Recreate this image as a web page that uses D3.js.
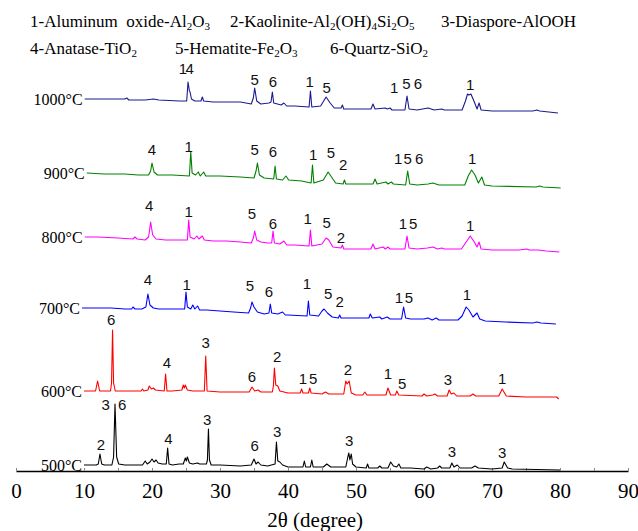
<!DOCTYPE html>
<html><head><meta charset="utf-8">
<script src="https://cdn.jsdelivr.net/npm/d3@7"></script>
<style>
html,body{margin:0;padding:0;background:#fff;}
svg{display:block;}
text{white-space:pre;}
</style></head>
<body>
<svg id="chart" width="638" height="531"></svg>
<script>
// ---------- data ----------
const xTicks = [0, 10, 20, 30, 40, 50, 60, 70, 80, 90];
const temperatures = ["500°C", "600°C", "700°C", "800°C", "900°C", "1000°C"];
const offsets = [6, 80, 163, 234, 298, 372];   // vertical stacking offset (a.u.)
const colors = ["#000000", "#ff0000", "#0000ff", "#ff00ff", "#008000", "#1a1a8e"];

const s500 = [[10,0],[11.8,0],[12.1,1],[12.35,11],[12.6,1],[13,0],[14.1,0],[14.35,8],[14.56,61],[14.8,8],[15.1,1],[16,0],[18.6,0],[19,4],[19.3,1],[19.7,3],[20,6],[20.3,3],[20.6,5],[20.9,2],[21.5,1],[22.1,1],[22.3,17],[22.5,1],[23,0],[24,1],[24.6,1],[24.9,7],[25.05,4],[25.2,8],[25.5,2],[26,1],[26.7,2],[27,1],[28,1],[28.15,5],[28.3,36],[28.45,5],[28.7,0],[30,0],[33,-1],[34.6,0],[35,6],[35.3,1],[35.6,3],[36,0],[37,-1],[38.1,1],[38.3,23],[38.5,4],[38.8,3],[39.2,0],[40,-2],[42.2,-2],[42.4,4],[42.6,-2],[43.3,-2],[43.5,5],[43.7,-2],[45.2,-2],[45.7,1],[46.3,-2],[48.5,-2],[48.8,8],[48.95,12],[49.1,5],[49.3,11],[49.5,1],[50,-2],[51.5,-3],[51.7,1],[51.9,-3],[53.2,-3],[53.5,-1],[53.8,-3],[54.7,-3],[55.1,3],[55.5,-1],[56,-2],[56.3,1],[56.6,-3],[58,-3],[60,-4],[60.4,-2],[61,-4],[62,-3],[62.3,-1],[62.6,-3],[63.8,-3],[64.1,2],[64.4,-2],[64.9,0],[65.3,-3],[67,-3],[67.5,-1],[68,-3],[70,-4],[71.5,-3],[71.8,3],[72.3,-3],[73,-4],[80,-5]];
const s600 = [[10,0],[11.7,0],[12,10],[12.3,0],[13.9,0],[14.05,8],[14.2,61],[14.35,8],[14.6,0],[16,0],[18.4,0],[18.6,2],[18.8,0],[19.4,1],[19.6,5],[19.9,2],[20.2,3],[20.5,1],[21.8,0],[22,17],[22.2,0],[23,0],[24.4,1],[24.6,6],[24.75,3],[24.9,6],[25.2,1],[26,0],[27.7,0],[27.9,35],[28.1,0],[30,-1],[34.3,-1],[34.7,4],[35.1,0],[35.6,1],[36,-1],[37.7,-1],[37.85,5],[38,23],[38.2,6],[38.5,5],[38.8,0],[40,-2],[41.8,-2],[42,2],[42.2,-2],[43,-2],[43.2,3],[43.4,-2],[45,-3],[45.5,-1],[46,-3],[48.2,-3],[48.5,10],[48.7,7],[49,10],[49.3,-2],[50,-4],[51,-4],[51.3,-1],[51.6,-4],[54.4,-4],[54.7,3],[55.1,-4],[55.8,-4],[56,0],[56.3,-4],[59.7,-5],[60,-3],[60.4,-5],[61.3,-4],[61.6,-3],[62,-5],[63.4,-5],[63.7,1],[64,-3],[64.4,-2],[64.8,-5],[66.8,-5],[67.2,-3],[67.6,-5],[71,-5],[71.5,2],[72.1,-5],[75,-6],[79.5,-6],[79.8,-8]];
const s700 = [[9.7,0],[12,0],[14,0],[16,-1],[17,-1],[17.2,1],[17.5,-1],[18.5,-1],[19.1,1],[19.4,14],[19.7,3],[20.2,0],[21,-1],[22,-1],[23.5,-1],[24.8,-1],[25,16],[25.2,1],[25.7,-1],[26,3],[26.3,-1],[26.7,2],[27,-2],[28,-2],[30,-3],[32,-4],[34.2,-5],[34.5,0],[34.7,6],[35,1],[35.5,-4],[36.5,-6],[37.2,-5],[37.4,4],[37.6,-5],[38.5,-6],[39.2,-4],[39.6,-7],[40,-7],[42.8,-8],[43,7],[43.2,-7],[44.5,-8],[45,-3],[45.3,-1],[45.8,-5],[46.5,-9],[47.4,-10],[47.6,-7],[47.8,-10],[50,-10],[51.9,-10],[52.1,-6],[52.4,-10],[53.5,-9],[53.8,-11],[54.6,-9],[55,-11],[56.7,-11],[57,1],[57.3,-10],[58,-11],[60,-11],[60.6,-10],[61.2,-12],[61.8,-10],[62.2,-12],[65,-12],[65.6,-8],[66.2,1],[66.6,-2],[67.2,-9],[67.8,-5],[68.2,-11],[69,-13],[72,-14],[76,-15],[76.6,-14],[77.2,-15],[79.4,-16]];
const s800 = [[10.1,0],[12,0],[15,-1],[17.2,-2],[17.5,0],[17.8,-2],[19,-3],[19.5,0],[19.8,15],[20.1,2],[20.6,-2],[22,-3],[24,-3],[25.2,-3],[25.4,17],[25.6,0],[26.2,-2],[26.6,1],[26.9,-2],[27.4,1],[27.7,-3],[29,-4],[31,-4],[33,-5],[34.6,-6],[34.9,-1],[35.1,6],[35.4,-3],[36,-5],[37,-6],[37.6,-6],[37.8,6],[38,-6],[38.8,-7],[39.4,-4],[39.8,-8],[41,-8],[43.1,-9],[43.3,7],[43.5,-9],[45,-7],[45.6,-1],[46,-3],[46.6,-10],[47.8,-11],[48,-8],[48.2,-12],[50,-12],[52.2,-12],[52.5,-7],[52.8,-12],[54,-10],[54.3,-12],[54.7,-10],[55,-12],[57.2,-12],[57.5,1],[57.8,-11],[59,-12],[60.5,-11],[61.3,-10],[62,-12],[62.6,-11],[63,-12],[65.5,-12],[66.3,-4],[66.8,1],[67.4,-5],[67.8,-10],[68.1,-5],[68.4,-12],[70,-13],[74,-13],[75.1,-12],[75.5,-13],[76.8,-13],[78,-14],[79.9,-15]];
const s900 = [[10.4,0],[13,-1],[16,-1],[18,-2],[19.5,-2],[19.8,2],[20,10],[20.3,1],[20.8,-2],[23,-2],[25.5,-3],[25.7,21],[25.9,0],[26.4,-2],[26.8,1],[27.1,-3],[27.6,1],[27.9,-3],[30,-3],[33,-4],[35,-5],[35.3,2],[35.5,10],[35.8,-2],[36.5,-5],[37.9,-6],[38.1,7],[38.3,-6],[39.2,-7],[39.7,-3],[40.1,-7],[42,-8],[43.4,-10],[43.6,8],[43.8,-10],[45.2,-7],[45.9,1],[46.4,-4],[47,-10],[48.1,-11],[48.3,-7],[48.5,-11],[52.5,-11],[52.8,-6],[53.1,-11],[54.4,-9],[54.7,-11],[55.2,-9],[55.5,-11],[57.3,-12],[57.6,2],[57.9,-11],[59,-12],[60.6,-11],[61.3,-10],[62.2,-12],[66,-12],[66.5,-3],[67,3],[67.5,-2],[68,-10],[68.5,-4],[68.9,-12],[70,-13],[76.5,-14],[77,-13],[77.5,-14],[80.1,-15]];
const s1000 = [[10.1,0],[13,0],[16,0],[16.3,1],[16.6,-1],[19,-1],[20.2,0],[21,-1],[24,-2],[25.1,-2],[25.3,17],[25.5,8],[25.6,7],[25.8,0],[26.3,-2],[27.2,-2],[27.4,2],[27.6,-2],[29,-3],[31,-3],[33,-3],[34.6,-5],[34.9,1],[35.1,11],[35.4,-2],[36,-5],[37.2,-4],[37.5,-3],[37.7,7],[37.9,-4],[39,-6],[39.4,-4],[39.8,-7],[41,-7],[43.1,-8],[43.3,8],[43.5,-8],[44.8,-7],[45.6,2],[46.2,-4],[46.8,-9],[47.8,-9],[48,-6],[48.2,-10],[52.2,-10],[52.5,-5],[52.8,-10],[54.3,-9],[54.6,-10],[55,-9],[55.3,-11],[57.2,-11],[57.5,3],[57.8,-10],[59,-11],[60.6,-9],[61.5,-11],[62.6,-10],[63,-11],[65.6,-11],[66.1,-2],[66.4,5],[66.6,4],[66.9,5],[67.4,-3],[67.8,-10],[68.1,-4],[68.4,-11],[70,-12],[76,-12],[76.6,-11],[77,-12],[79.7,-14]];
const seriesData = [s500, s600, s700, s800, s900, s1000];

// peak labels: [2θ, label, height above that pattern's baseline]
const l500 = [[12.5,"2",21],[13.2,"3",61],[15.6,"6",61],[22.4,"4",27],[28.1,"3",46],[35.1,"6",20],[38.4,"3",34],[49.0,"3",25],[64.1,"3",14],[71.5,"3",13]];
const l600 = [[14.0,"6",72],[22.2,"4",29],[27.9,"3",49],[34.7,"6",15],[38.4,"2",35],[42.2,"1",13],[43.7,"5",13],[48.8,"2",22],[54.7,"1",18],[56.8,"5",8],[63.5,"3",12],[71.5,"1",13]];
const l700 = [[19.4,"4",29],[25.1,"1",24],[34.4,"5",23],[37.2,"6",17],[42.8,"1",25],[45.9,"5",15],[47.6,"2",7],[56.3,"1",11],[57.8,"5",11],[66.3,"1",14]];
const l800 = [[19.6,"4",32],[25.4,"1",26],[34.7,"5",24],[37.8,"6",14],[42.9,"1",19],[45.7,"5",15],[47.8,"2",0],[56.9,"1",14],[58.4,"5",14],[66.8,"1",12]];
const l900 = [[20.0,"4",24],[25.4,"1",27],[35.1,"5",24],[37.8,"6",22],[43.7,"1",19],[46.3,"5",21],[48.1,"2",9],[56.2,"1",15],[57.6,"5",15],[59.3,"6",15],[67.1,"1",15]];
const l1000 = [[24.55,"1",31],[25.55,"4",31],[35.1,"5",20],[37.8,"6",18],[43.2,"1",18],[45.7,"5",12],[55.6,"1",12],[57.4,"5",16],[59.1,"6",16],[66.8,"1",15]];
const labelData = [l500, l600, l700, l800, l900, l1000];

// legend rows: segments [text, isSubscript]
const legendRow1 = [
  [["1-Aluminum  oxide-Al",0],["2",1],["O",0],["3",1]],
  [["2-Kaolinite-Al",0],["2",1],["(OH)",0],["4",1],["Si",0],["2",1],["O",0],["5",1]],
  [["3-Diaspore-AlOOH",0]]
];
const legendRow2 = [
  [["4-Anatase-TiO",0],["2",1]],
  [["5-Hematite-Fe",0],["2",1],["O",0],["3",1]],
  [["6-Quartz-SiO",0],["2",1]]
];
const xTitle = "2θ (degree)";

// ---------- drawing ----------
const svg = d3.select("#chart");
const x = d3.scaleLinear().domain([0, 90]).range([16, 628]);
const y = d3.scaleLinear().domain([0, 400]).range([471, 71]);
const serif = "'Liberation Serif','Times New Roman',serif";
const sans = "'Liberation Sans',Arial,sans-serif";

// axis
const axis = d3.axisBottom(x)
  .tickValues(d3.range(0, 91, 5))
  .tickSizeInner(-3).tickSizeOuter(0).tickPadding(12)
  .tickFormat(d => xTicks.includes(d) ? d : "");
const gx = svg.append("g").attr("transform", `translate(0,${y(0)})`).call(axis);
gx.select(".domain").attr("stroke", "#000").attr("stroke-width", 1.6);
gx.selectAll(".tick line").attr("stroke", "#888").attr("stroke-width", 1);
gx.selectAll(".tick text").attr("font-family", serif).attr("font-size", 21).attr("fill", "#000");

svg.append("text").attr("x", x(44)).attr("y", 520).attr("text-anchor", "middle")
  .attr("dominant-baseline", "central")
  .attr("font-family", serif).attr("font-size", 21).text(xTitle);

// patterns
const line = d3.line().x(d => x(d[0]));
seriesData.forEach((s, i) => {
  const off = offsets[i];
  svg.append("path").datum(s)
    .attr("d", line.y(d => y(off + d[1])))
    .attr("fill", "none").attr("stroke", colors[i]).attr("stroke-width", 1.1)
    .attr("stroke-linejoin", "round");
  svg.append("text").attr("x", x(s[0][0]) - 2).attr("y", y(off + s[0][1]))
    .attr("text-anchor", "end").attr("dominant-baseline", "central")
    .attr("font-family", serif).attr("font-size", 16).text(temperatures[i]);
  labelData[i].forEach(l => {
    svg.append("text").attr("x", x(l[0])).attr("y", y(off + l[2]))
      .attr("text-anchor", "middle").attr("dominant-baseline", "central")
      .attr("font-family", sans).attr("font-size", 15).attr("fill", "#111").text(l[1]);
  });
});

// legend
function legendRow(items, xs, yc) {
  items.forEach((segs, k) => {
    const t = svg.append("text").attr("x", xs[k]).attr("y", yc)
      .attr("xml:space", "preserve")
      .attr("font-family", serif).attr("font-size", 17).attr("dominant-baseline", "central");
    segs.forEach((s, j) => {
      const prev = j > 0 ? segs[j - 1] : null;
      const ts = t.append("tspan").text(s[0]);
      if (s[1]) ts.attr("font-size", 11).attr("dy", 5);
      else ts.attr("dy", prev && prev[1] ? -5 : 0);
    });
  });
}
legendRow(legendRow1, [30, 230, 441], 21);
legendRow(legendRow2, [30, 175, 330], 48);
</script>
</body></html>
